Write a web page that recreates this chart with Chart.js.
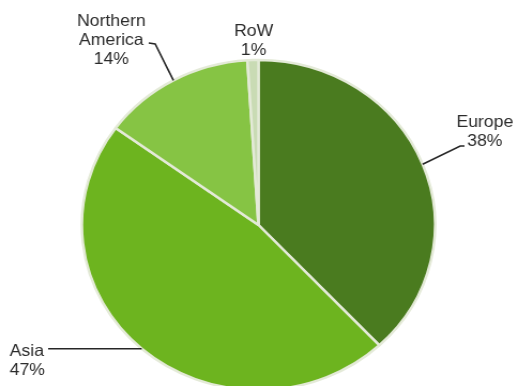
<!DOCTYPE html>
<html>
<head>
<meta charset="utf-8">
<script src="https://cdn.jsdelivr.net/npm/chart.js@4.4.1/dist/chart.umd.min.js"></script>
<style>
  html, body { margin: 0; padding: 0; background: #fff; }
  #regionChart { display: block; }
</style>
</head>
<body>
<!-- canvas is drawn narrower and stretched sideways, so the pie comes out slightly oval -->
<canvas id="regionChart" width="484" height="386" style="width:518px;height:386px"></canvas>
<script>
var regions = ["Europe", "Asia", "Northern America", "RoW"];
var shares = [38, 47, 14, 1];
var sliceColors = ["#4a7b1f", "#6db41f", "#86c444", "#c9dbb4"];

// label text lines and where they sit (canvas px), plus leader line bend points
var labelLines = [
    ["Europe", shares[0] + "%"],
    ["Asia", shares[1] + "%"],
    ["Northern", "America", shares[2] + "%"],
    ["RoW", shares[3] + "%"]
];
var labelSpots = [
    {x: 453, y: 122, align: "center"},
    {x: 9, y: 351, align: "left"},
    {x: 104, y: 21, align: "center"},
    {x: 237, y: 31, align: "center"}
];
// null y = keep the height of the point on the pie edge
var leaderBends = [
    [[430, 146], [434, 146]],
    [[45, null]],
    [[145, 44], [139, 43]],
    null
];

var calloutPlugin = {
    id: "callouts",
    afterDatasetsDraw: function (chart) {
        var ctx = chart.ctx;
        var arcs = chart.getDatasetMeta(0).data;
        ctx.save();
        ctx.font = "16.5px 'Liberation Sans', Arial, sans-serif";
        ctx.fillStyle = "#2b2b2b";
        ctx.textBaseline = "middle";
        arcs.forEach(function (arc, i) {
            var p = arc.getProps(["x", "y", "startAngle", "endAngle", "outerRadius"], true);
            var mid = (p.startAngle + p.endAngle) / 2;
            var ex = p.x + Math.cos(mid) * p.outerRadius;
            var ey = p.y + Math.sin(mid) * p.outerRadius;
            var bends = leaderBends[i];
            if (bends) {
                ctx.beginPath();
                ctx.strokeStyle = "#262626";
                ctx.lineWidth = 1.6;
                ctx.moveTo(ex, ey);
                bends.forEach(function (b) {
                    ctx.lineTo(b[0], b[1] === null ? ey : b[1]);
                });
                ctx.stroke();
            }
            var spot = labelSpots[i];
            ctx.textAlign = spot.align;
            labelLines[i].forEach(function (t, k) {
                ctx.fillText(t, spot.x, spot.y + k * 19);
            });
        });
        ctx.restore();
    }
};

var ctx = document.getElementById("regionChart");
var regionChart = new Chart(ctx, {
    type: "pie",
    data: {
        labels: regions,
        datasets: [
            {
                data: shares,
                backgroundColor: sliceColors,
                borderColor: "#e4ead8",
                borderWidth: 2.5
            }
        ]
    },
    options: {
        responsive: false,
        animation: false,
        radius: 165,
        layout: {
            padding: {top: 64, bottom: 0, left: 0, right: 1}
        },
        plugins: {
            legend: { display: false },
            tooltip: { enabled: false }
        }
    },
    plugins: [calloutPlugin]
});
</script>
</body>
</html>
